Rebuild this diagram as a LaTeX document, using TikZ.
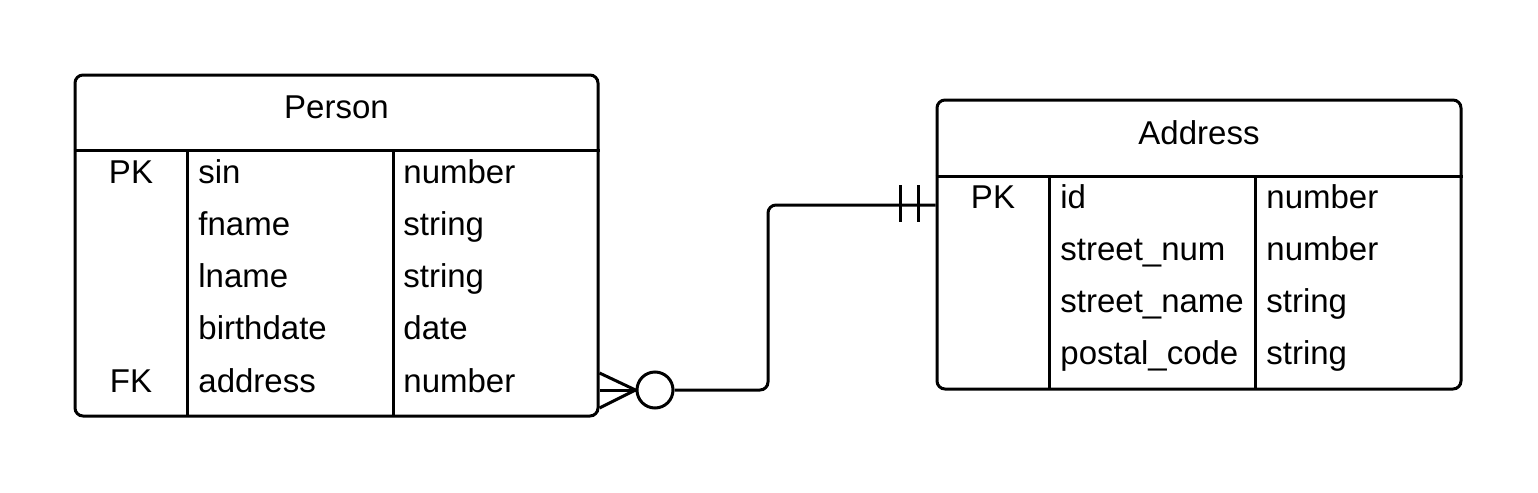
\documentclass[tikz,border=0pt]{standalone}
\usepackage{fontspec}
\setmainfont{Liberation Sans}
\usetikzlibrary{positioning, calc}

\begin{document}
\begin{tikzpicture}[
        x=0.5pt, y=-0.5pt,
        entity/.style={draw, line width=1.5pt, rounded corners=4pt, inner sep=0pt},
        cell/.style={inner sep=0pt, font=\fontsize{16.5}{20}\selectfont},
        key/.style={cell, anchor=center},
        field/.style={cell, anchor=west},
        rule/.style={line width=1.5pt},
        link/.style={line width=1.5pt}
    ]
    \useasboundingbox (0,0) rectangle (1538,493);

    % entities
    \node[entity, minimum width=261.5pt, minimum height=170.5pt] (person) at (336.5,245.5) {};
    \node[entity, minimum width=262pt, minimum height=144.5pt] (address) at (1199,244.5) {};

    % person table
    \node[cell] (persontitle) at (336.5,110) {\strut Person};
    \draw[rule] (person.west |- 0,150) -- (person.east |- 0,150);
    \draw[rule] (187,150) -- (187,416);
    \draw[rule] (393,150) -- (393,416);
    \foreach \k/\f/\t [count=\i from 0] in {PK/sin/number, /fname/string, /lname/string, /birthdate/date, FK/address/number}{
        \node[key] (pk\i) at (131,175+52.3*\i) {\strut\k};
        \node[field] (pf\i) at (198,175+52.3*\i) {\strut\f};
        \node[field] (pt\i) at (403,175+52.3*\i) {\strut\t};
    }

    % address table
    \node[cell] (addresstitle) at (1199,136) {\strut Address};
    \draw[rule] (address.west |- 0,176) -- (address.east |- 0,176);
    \draw[rule] (1049,176) -- (1049,389);
    \draw[rule] (1255,176) -- (1255,389);
    \foreach \k/\f/\t [count=\i from 0] in {PK/id/number, /street\_num/number, /street\_name/string, /postal\_code/string}{
        \node[key] (ak\i) at (993,200+52.3*\i) {\strut\k};
        \node[field] (af\i) at (1060,200+52.3*\i) {\strut\f};
        \node[field] (at\i) at (1266,200+52.3*\i) {\strut\t};
    }

    % relationship: zero or many persons to exactly one address
    \node[draw, circle, line width=1.5pt, minimum size=18pt, inner sep=0pt] (opt) at (655,390) {};
    \coordinate (footup) at (person.east |- 0,373);
    \coordinate (footmid) at (person.east |- 0,390);
    \coordinate (footdown) at (person.east |- 0,408);
    \coordinate (bend) at (768,390);
    \coordinate (target) at (address.west |- 0,205);
    \draw[link] (footup) -- (opt.west);
    \draw[link] (footmid) -- (opt.west);
    \draw[link] (footdown) -- (opt.west);
    \draw[link, rounded corners=4pt] (opt.east) -- (bend) |- (target);
    \draw[link] (900,185) -- (900,222);
    \draw[link] (918,185) -- (918,222);
\end{tikzpicture}
\end{document}
